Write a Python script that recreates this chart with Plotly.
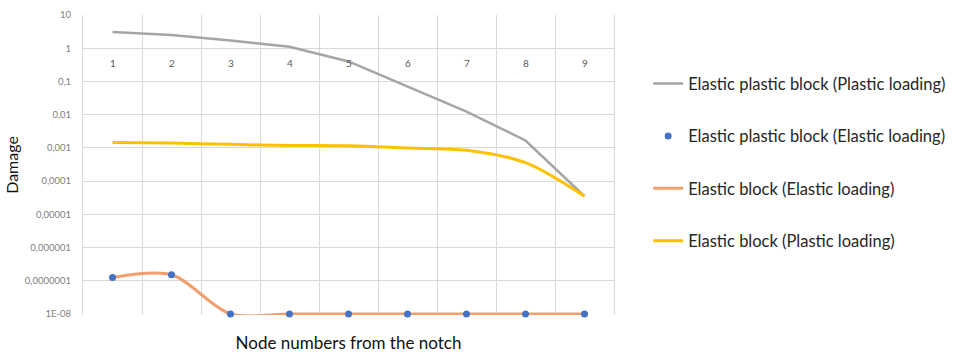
import plotly.graph_objects as go

nodes = [1, 2, 3, 4, 5, 6, 7, 8, 9]
node_labels = ["1", "2", "3", "4", "5", "6", "7", "8", "9"]

ep_plastic = [3.1, 2.5, 1.7, 1.1, 0.40, 0.069, 0.0124, 0.00167, 0.000035]
ep_elastic = [1.26e-7, 1.52e-7, 1e-8, 1e-8, 1e-8, 1e-8, 1e-8, 1e-8, 1e-8]
e_elastic = [1.26e-7, 1.52e-7, 1e-8, 1e-8, 1e-8, 1e-8, 1e-8, 1e-8, 1e-8]
e_plastic = [0.00146, 0.0014, 0.00128, 0.00118, 0.00115, 0.00099, 0.00085, 0.00036, 0.000035]

y_tickvals = [1e-8, 1e-7, 1e-6, 1e-5, 1e-4, 1e-3, 1e-2, 1e-1, 1, 10]
y_ticktext = ["1E-08", "0,0000001", "0,000001", "0,00001", "0,0001", "0,001", "0,01", "0,1", "1", "10"]

FONT = "Lato"

fig = go.Figure()
fig.add_trace(go.Scatter(x=nodes, y=ep_plastic, mode="lines", name="Elastic plastic block (Plastic loading)",
                         line=dict(color="#a5a5a5", width=2.5), legendgroup="a", legendrank=1, cliponaxis=False))
fig.add_trace(go.Scatter(x=nodes, y=e_elastic, mode="lines", name="Elastic block (Elastic loading)",
                         line=dict(color="#f0a070", width=3, shape="spline", smoothing=0.85),
                         legendgroup="c", legendrank=3, cliponaxis=False))
fig.add_trace(go.Scatter(x=nodes, y=e_plastic, mode="lines", name="Elastic block (Plastic loading)",
                         line=dict(color="#ffc000", width=3, shape="spline", smoothing=0.9),
                         legendgroup="d", legendrank=4, cliponaxis=False))
fig.add_trace(go.Scatter(x=nodes, y=ep_elastic, mode="markers", name="Elastic plastic block (Elastic loading)",
                         marker=dict(color="#4472c4", size=7), legendgroup="b", legendrank=2, cliponaxis=False))

for n, lab in zip(nodes, node_labels):
    fig.add_annotation(x=n, y=0, xref="x", yref="y", text=lab, showarrow=False,
                       yanchor="top", yshift=-7, font=dict(family=FONT, size=10, color="#595959"))

fig.update_layout(
    width=956, height=356,
    margin=dict(l=83, r=342, t=15, b=41, autoexpand=False),
    paper_bgcolor="white", plot_bgcolor="white",
    font=dict(family=FONT),
    showlegend=True,
    legend=dict(x=0.678, y=0.814, xref="container", yref="container", xanchor="left", yanchor="top",
                tracegroupgap=28, itemwidth=30, maxheight=400,
                font=dict(family=FONT, size=16.5, color="#262626"), bgcolor="rgba(0,0,0,0)"),
    xaxis=dict(range=[0.5, 9.5], tickvals=[0.5 + i for i in range(10)], showticklabels=False,
               showgrid=True, gridcolor="#d9d9d9", gridwidth=1, zeroline=False, ticks="",
               title=dict(text="Node numbers from the notch", font=dict(family=FONT, size=17, color="#111"), standoff=22),
               automargin=False, showline=False),
    yaxis=dict(type="log", range=[-8.03, 1], tickvals=y_tickvals, ticktext=y_ticktext,
               showgrid=True, gridcolor="#d9d9d9", gridwidth=1, zeroline=False, ticks="",
               tickfont=dict(family=FONT, size=9.5, color="#808080"), ticklabelstandoff=9,
               title=dict(text="Damage", font=dict(family=FONT, size=16, color="#111"), standoff=2),
               automargin=False, showline=True, linecolor="#d9d9d9", mirror=True),
)

fig.write_html("out.html")
